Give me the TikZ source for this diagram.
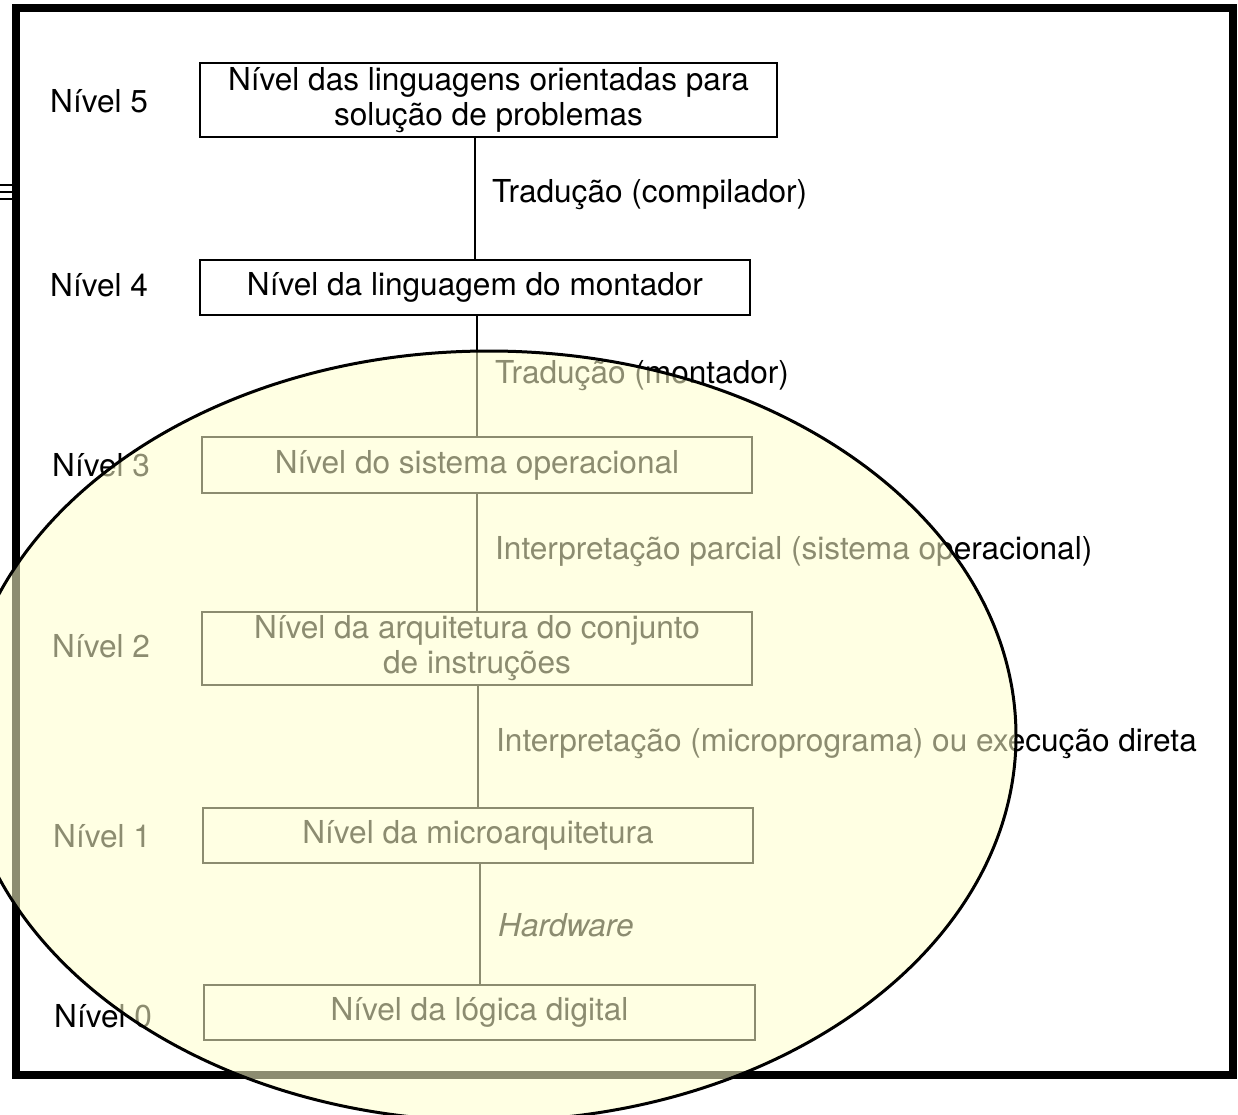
\documentclass[tikz,border=0pt]{standalone}
\usepackage{fontspec}
\setmainfont{TeX Gyre Heros}
\begin{document}
\begin{tikzpicture}[x=1pt,y=-1pt,
  every node/.style={font=\fontsize{31.6}{35}\selectfont},
  levelbox/.style={draw=black,line width=2pt,align=center,inner sep=0pt},
  levellabel/.style={anchor=west,inner sep=0pt},
  translabel/.style={anchor=west,inner sep=0pt},
  conn/.style={draw=black,line width=2pt}]
\useasboundingbox (0,0) rectangle (1238,1114);
\clip (0,0) rectangle (1238,1114);
\fill[white] (0,0) rectangle (1238,1114);
% frame
\draw[line width=8pt,line join=miter] (16,8) rectangle (1233,1075);
% small marks at left edge
\draw[line width=2.5pt] (0,185) -- (16,185);
\draw[line width=2.5pt] (0,192) -- (16,192);
\draw[line width=2.5pt] (0,199) -- (16,199);
% boxes
\node[levelbox,minimum width=577pt,minimum height=74pt] (b5) at (488.5,100) {Nível das linguagens orientadas para\\solução de problemas};
\node[levelbox,minimum width=550pt,minimum height=55pt] (b4) at (475,287.5) {Nível da linguagem do montador};
\node[levelbox,minimum width=550pt,minimum height=56pt] (b3) at (477,465) {Nível do sistema operacional};
\node[levelbox,minimum width=550pt,minimum height=73pt] (b2) at (477,648.5) {Nível da arquitetura do conjunto\\de instruções};
\node[levelbox,minimum width=550pt,minimum height=55pt] (b1) at (478,835.5) {Nível da microarquitetura};
\node[levelbox,minimum width=551pt,minimum height=55pt] (b0) at (479.5,1012.5) {Nível da lógica digital};
% connectors
\draw[conn] (b4.north |- b5.south) -- (b4.north);
\draw[conn] (b3.north |- b4.south) -- (b3.north);
\draw[conn] (b2.north |- b3.south) -- (b2.north);
\draw[conn] (b1.north |- b2.south) -- (b1.north);
\draw[conn] (b0.north |- b1.south) -- (b0.north);
% level labels
\node[levellabel] (l5) at (50,101) {Nível 5};
\node[levellabel] (l4) at (50,285) {Nível 4};
\node[levellabel] (l3) at (52,465) {Nível 3};
\node[levellabel] (l2) at (52,646) {Nível 2};
\node[levellabel] (l1) at (53,836) {Nível 1};
\node[levellabel] (l0) at (54,1016) {Nível 0};
% translation labels
\node[translabel] (t5) at (492,195) {Tradução (compilador)};
\node[translabel] (t4) at (495,376) {Tradução (montador)};
\node[translabel] (t3) at (495,552) {Interpretação parcial (sistema operacional)};
\node[translabel] (t2) at (496,744) {Interpretação (microprograma) ou execução direta};
\node[translabel,font=\fontsize{31.6}{35}\selectfont\itshape] (t1) at (498,925) {Hardware};
% ellipse overlay
\fill[fill={rgb,255:red,255;green,255;blue,205},fill opacity=0.55] (489,736) ellipse [x radius=527pt, y radius=385pt];
\draw[line width=3pt] (489,736) ellipse [x radius=527pt, y radius=385pt];
\end{tikzpicture}
\end{document}
